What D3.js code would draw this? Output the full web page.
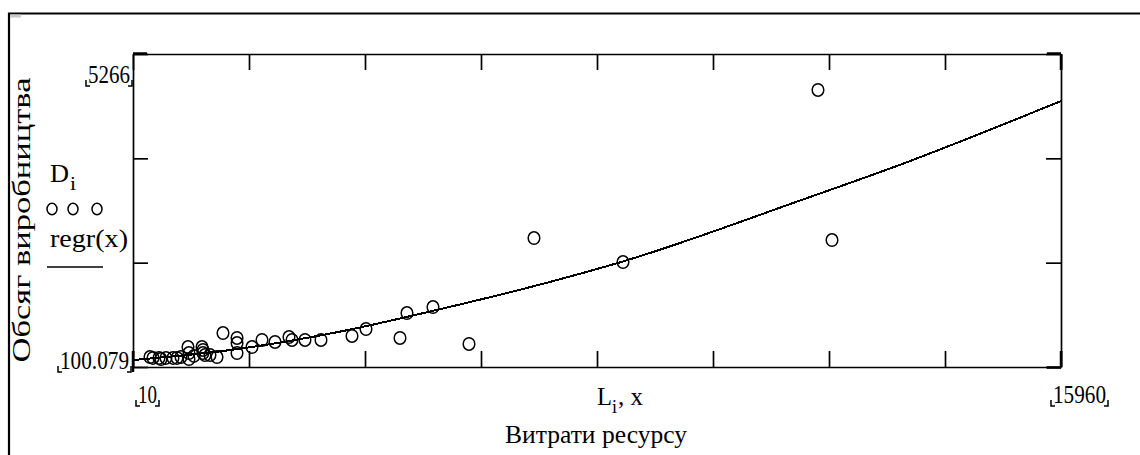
<!DOCTYPE html>
<html lang="uk">
<head>
  <meta charset="UTF-8">
  <title>Обсяг виробництва / Витрати ресурсу</title>
  <style>
    body { margin: 0; background: #fff; overflow: hidden; }
    svg { display: block; }
    text { font-family: "Liberation Serif", "Times New Roman", serif; fill: #000; }
    .axis path, .axis line { stroke: #000; stroke-width: 1.7px; }
    .axis text { display: none; }
  </style>
</head>
<body>
  <svg width="1140" height="455"></svg>

  <script src="https://d3js.org/d3.v7.min.js"></script>
  <script>
    // Observed data: resource costs L_i and production volume D_i
    const costL = [302, 354, 457, 491, 577, 697, 766, 835, 955, 972, 972, 1058, 1196, 1213, 1213,
      1248, 1333, 1454, 1557, 1798, 1798, 1798, 2055, 2227, 2451, 2691, 2743, 2966, 3241, 3774,
      4015, 4599, 4719, 5166, 5785, 6902, 8432, 12024, 11783];
    const volumeD = [265, 249, 249, 232, 249, 249, 249, 265, 430, 331, 232, 282, 430, 381, 331,
      298, 298, 265, 661, 579, 496, 331, 430, 546, 513, 595, 546, 546, 546, 612,
      727, 579, 991, 1090, 480, 2229, 1833, 2196, 4672];

    // Regression curve regr(x)
    const regrX = [10, 1600, 3600, 5000, 7300, 8400, 11500, 13200, 15960];
    const regrY = [215, 370, 690, 990, 1536, 1833, 2856, 3440, 4490];

    // Axis limits shown by the chart
    const xLimits = [10, 15960];
    const yLimits = [100.079, 5266];
    const xLimitLabels = ["10", "15960"];
    const yLimitLabels = ["100.079", "5266"];

    const svg = d3.select("svg");

    const pLeft = 133, pRight = 1061, pTop = 54, pBottom = 367;
    const x = d3.scaleLinear().domain(xLimits).range([pLeft, pRight]);
    const y = d3.scaleLinear().domain(yLimits).range([pBottom, pTop]);

    const xTicks = d3.range(9).map(i => xLimits[0] + i * (xLimits[1] - xLimits[0]) / 8);
    const yTicks = d3.range(4).map(i => yLimits[0] + i * (yLimits[1] - yLimits[0]) / 3);

    // outer frame of the region
    svg.append("path")
      .attr("d", "M9,455 V13.5 H1140")
      .attr("fill", "none")
      .attr("stroke", "#000")
      .attr("stroke-width", 2.2);
    svg.append("rect")
      .attr("x", 10).attr("y", 14.5).attr("width", 11).attr("height", 3)
      .attr("fill", "#c8c8c8");

    // frame with inward ticks on all four sides
    svg.append("g").attr("class", "axis")
      .attr("transform", `translate(0,${pBottom})`)
      .call(d3.axisBottom(x).tickValues(xTicks).tickSize(-16).tickSizeOuter(0));
    svg.append("g").attr("class", "axis")
      .attr("transform", `translate(0,${pTop})`)
      .call(d3.axisTop(x).tickValues(xTicks).tickSize(-16).tickSizeOuter(0));
    svg.append("g").attr("class", "axis")
      .attr("transform", `translate(${pLeft},0)`)
      .call(d3.axisLeft(y).tickValues(yTicks).tickSize(-15).tickSizeOuter(0));
    svg.append("g").attr("class", "axis")
      .attr("transform", `translate(${pRight},0)`)
      .call(d3.axisRight(y).tickValues(yTicks).tickSize(-15).tickSizeOuter(0));

    // corner markers
    const marks = svg.append("g").attr("stroke", "#000").attr("stroke-width", 2.5).attr("fill", "none");
    marks.append("path").attr("d", `M${pLeft},${pTop - 0.5} H${pLeft + 14}`);
    marks.append("path").attr("d", `M${pRight - 14},${pTop - 0.5} H${pRight}`);
    marks.append("path").attr("d", `M${pRight},${pTop} V${pTop + 16}`);
    marks.append("path").attr("d", `M${pRight},${pBottom - 16} V${pBottom}`);
    marks.append("path").attr("d", `M${pRight - 14},${pBottom + 0.5} H${pRight}`);
    marks.append("path").attr("d", `M${pLeft},${pBottom - 16} V${pBottom + 5}`);

    // regression line (crisp edges give the stepped look of the original)
    const line = d3.line()
      .x((d, i) => x(regrX[i]))
      .y(d => y(d))
      .curve(d3.curveMonotoneX);
    svg.append("path")
      .datum(regrY)
      .attr("d", line)
      .attr("fill", "none")
      .attr("stroke", "#000")
      .attr("stroke-width", 2)
      .attr("shape-rendering", "crispEdges");

    // data points
    svg.append("g")
      .selectAll("ellipse")
      .data(volumeD)
      .join("ellipse")
      .attr("cx", (d, i) => x(costL[i]))
      .attr("cy", d => y(d))
      .attr("rx", 5.8)
      .attr("ry", 6.2)
      .attr("fill", "none")
      .attr("stroke", "#000")
      .attr("stroke-width", 1.5);

    // horizontal text, glyphs narrowed to the given width
    function label(tx, ty, str, size, width, anchor) {
      return svg.append("text")
        .attr("x", tx).attr("y", ty)
        .attr("text-anchor", anchor || "start")
        .attr("font-size", size)
        .attr("textLength", width)
        .attr("lengthAdjust", "spacingAndGlyphs")
        .text(str);
    }

    // limit labels with Mathcad style corner brackets
    function limitLabel(tx, ty, str, width, anchor) {
      const t = label(tx, ty, str, 25, width, anchor);
      const b = t.node().getBBox();
      const by = ty + 3;
      svg.append("path")
        .attr("d", `M${b.x - 2},${by - 6} V${by} H${b.x + 2}` +
                   ` M${b.x + b.width + 2},${by - 6} V${by} H${b.x + b.width - 2}`)
        .attr("fill", "none")
        .attr("stroke", "#000")
        .attr("stroke-width", 1.5);
    }
    limitLabel(130, 83, yLimitLabels[1], 42, "end");
    limitLabel(129, 369, yLimitLabels[0], 69, "end");
    limitLabel(138, 403, xLimitLabels[0], 19, "start");
    limitLabel(1053, 403, xLimitLabels[1], 53, "start");

    // axis titles
    label(597, 405, "L", 26, 15);
    label(612, 413, "i", 18, 5);
    label(618, 405, ", x", 26, 25);

    label(505, 443, "Витрати ресурсу", 26, 182);

    svg.append("text")
      .attr("transform", "translate(30,220) rotate(-90)")
      .attr("text-anchor", "middle")
      .attr("font-size", 25)
      .attr("textLength", 285)
      .attr("lengthAdjust", "spacingAndGlyphs")
      .text("Обсяг виробництва");

    // legend
    label(50, 182, "D", 26, 19);
    label(70, 190, "i", 18, 6);

    svg.append("g")
      .selectAll("ellipse")
      .data([52, 73, 97])
      .join("ellipse")
      .attr("cx", d => d)
      .attr("cy", 209)
      .attr("rx", 5)
      .attr("ry", 5.8)
      .attr("fill", "none")
      .attr("stroke", "#000")
      .attr("stroke-width", 1.5);

    label(50, 247, "regr(x)", 26, 78);
    svg.append("line")
      .attr("x1", 47).attr("x2", 103)
      .attr("y1", 267).attr("y2", 267)
      .attr("stroke", "#000")
      .attr("stroke-width", 1.6);
  </script>
</body>
</html>
